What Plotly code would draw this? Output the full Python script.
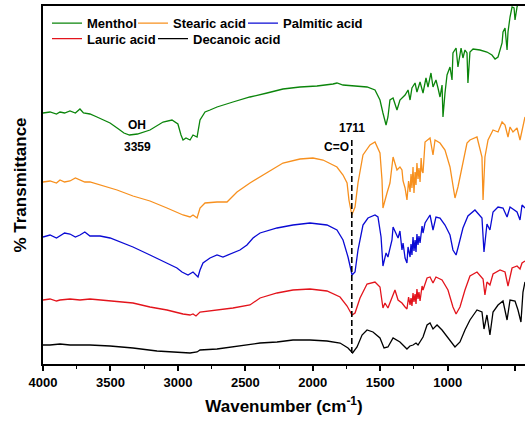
import plotly.graph_objects as go

# FTIR spectra, stacked (transmittance, arbitrary offset units)
menthol_wn = [4000, 3948, 3900, 3874, 3840, 3800, 3760, 3726, 3700, 3652, 3600, 3503, 3440, 3400, 3359,
              3300, 3207, 3110, 3044, 3000, 2977, 2962, 2940, 2925, 2910, 2888, 2858, 2836, 2799,
              2762, 2710, 2592, 2466, 2339, 2221, 2095, 1969, 1850, 1821, 1776, 1702, 1598, 1539,
              1502, 1480, 1457, 1443, 1428, 1405, 1376, 1354, 1316, 1294, 1279, 1265, 1242, 1228,
              1205, 1183, 1161, 1146, 1124, 1109, 1087, 1072, 1057, 1042, 1035, 1020, 1005, 983,
              968, 961, 938, 924, 901, 887, 872, 857, 850, 835, 812, 761, 709, 672, 649, 627, 597,
              590, 575, 560, 553, 538, 523, 508, 501, 486, 471, 449, 427]
menthol_t = [251, 252, 250, 252, 251, 253, 251, 255, 251, 250, 247, 241, 235, 231, 229,
             230, 234, 242, 244, 240, 229, 224, 226, 225, 224, 229, 227, 244, 252,
             254, 257, 262, 267, 271, 275, 277, 278, 280, 281, 279, 278, 277, 274,
             264, 251, 239, 247, 264, 266, 254, 264, 269, 274, 264, 276, 281, 272,
             282, 271, 286, 277, 291, 277, 284, 276, 267, 279, 247, 271, 289, 297,
             284, 311, 316, 297, 316, 306, 314, 311, 281, 312, 315, 314, 312, 309, 305, 307, 321,
             332, 336, 314, 332, 347, 357, 356, 344, 357, 364, 374, 379]

stearic_wn = [4000, 3948, 3900, 3874, 3840, 3800, 3760, 3726, 3690, 3652, 3577, 3451, 3333, 3207, 3081,
              2962, 2910, 2888, 2858, 2836, 2799, 2710, 2636, 2562, 2466, 2339, 2221, 2095, 1999,
              1924, 1821, 1776, 1746, 1732, 1711, 1687, 1665, 1628, 1576, 1539, 1502, 1487, 1480,
              1450, 1428, 1405, 1376, 1354, 1339, 1331, 1316, 1302, 1290, 1279, 1272, 1265, 1257,
              1250, 1242, 1235, 1228, 1220, 1213, 1205, 1197, 1190, 1183, 1168, 1153, 1131, 1109,
              1094, 1057, 1020, 983, 961, 946, 924, 887, 857, 835, 783, 746, 738, 724, 701, 664,
              627, 597, 575, 553, 538, 516, 486, 464, 442, 427]
stearic_t = [182, 183, 181, 184, 182, 183, 186, 184, 182, 182, 179, 174, 168, 163, 156,
             149, 147, 149, 146, 156, 161, 162, 162, 172, 181, 191, 201, 205, 206,
             204, 197, 189, 181, 164, 149, 157, 181, 209, 219, 222, 211, 184, 156,
             171, 181, 207, 194, 197, 194, 183, 176, 164, 183, 172, 190, 176, 197,
             171, 192, 179, 201, 185, 196, 182, 206, 193, 191, 222, 224, 226, 209,
             224, 221, 214, 197, 177, 166, 177, 201, 221, 224, 227, 207, 164, 207, 224, 234,
             232, 242, 239, 227, 237, 232, 236, 224, 239, 247]

palmitic_wn = [4000, 3948, 3900, 3874, 3840, 3800, 3760, 3726, 3690, 3652, 3577, 3503, 3429, 3333, 3207,
               3081, 3007, 2970, 2925, 2888, 2866, 2851, 2836, 2814, 2762, 2710, 2666, 2592, 2540,
               2488, 2443, 2391, 2265, 2147, 2021, 1895, 1821, 1776, 1739, 1709, 1687, 1665, 1628,
               1591, 1539, 1517, 1494, 1480, 1457, 1443, 1413, 1405, 1383, 1368, 1354, 1339, 1331,
               1316, 1302, 1294, 1279, 1272, 1265, 1257, 1250, 1242, 1235, 1228, 1220, 1213, 1205,
               1190, 1183, 1168, 1131, 1109, 1087, 1057, 1020, 983, 961, 938, 924, 887, 850, 798,
               746, 731, 709, 687, 664, 627, 590, 560, 538, 486, 464, 449, 427]
palmitic_t = [127, 129, 126, 128, 131, 130, 127, 129, 132, 128, 128, 126, 122, 117, 109,
              101, 96, 92, 89, 92, 89, 87, 94, 101, 106, 109, 107, 111, 114,
              119, 126, 131, 136, 139, 141, 139, 134, 124, 107, 89, 92, 114, 139,
              146, 149, 147, 127, 98, 111, 107, 124, 137, 131, 126, 133, 114, 121,
              106, 101, 117, 107, 120, 109, 127, 113, 124, 112, 130, 119, 128, 121,
              138, 131, 141, 149, 134, 147, 146, 139, 129, 114, 109, 116, 136, 148, 154,
              146, 112, 140, 134, 152, 157, 156, 147, 157, 152, 144, 159, 156]

lauric_wn = [4000, 3948, 3900, 3874, 3800, 3726, 3652, 3503, 3333, 3207, 3081, 2962, 2910, 2888,
             2866, 2836, 2710, 2592, 2466, 2391, 2265, 2147, 2021, 1895, 1798, 1746, 1709, 1687,
             1650, 1598, 1539, 1502, 1480, 1465, 1443, 1413, 1391, 1368, 1339, 1316, 1302, 1290,
             1279, 1272, 1265, 1257, 1250, 1242, 1235, 1228, 1220, 1213, 1205, 1190, 1183, 1153,
             1131, 1109, 1087, 1042, 998, 961, 938, 909, 872, 835, 783, 738, 724, 709, 687, 664,
             612, 575, 553, 523, 486, 464, 449, 427]
lauric_t = [64, 65, 63, 64, 65, 64, 65, 63, 61, 57, 54, 50, 49, 50,
            48, 52, 54, 56, 59, 66, 71, 74, 75, 73, 67, 58, 49, 51,
            66, 80, 82, 77, 56, 61, 56, 67, 74, 64, 61, 57, 55, 67,
            59, 66, 58, 71, 62, 70, 60, 75, 65, 72, 63, 78, 74, 86,
            87, 81, 87, 84, 74, 57, 50, 57, 74, 88, 92, 85, 69, 82, 79, 90,
            94, 92, 78, 96, 98, 95, 101, 103]

decanoic_wn = [4000, 3948, 3874, 3800, 3726, 3652, 3503, 3333, 3155, 2962, 2910, 2858, 2836, 2710,
               2592, 2466, 2391, 2265, 2147, 2021, 1895, 1798, 1739, 1705, 1672, 1635, 1598, 1554,
               1502, 1472, 1443, 1405, 1376, 1354, 1302, 1280, 1257, 1235, 1220, 1205, 1195, 1183,
               1153, 1131, 1109, 1079, 1042, 998, 946, 909, 872, 835, 783, 746, 731, 709, 687, 664,
               627, 590, 560, 538, 501, 479, 457, 442, 427]
decanoic_t = [19, 19, 20, 19, 19, 19, 18, 16, 13, 12, 11, 12, 14, 15,
              17, 19, 21, 22, 24, 24, 23, 21, 16, 11, 17, 29, 34, 32,
              26, 16, 17, 26, 24, 22, 15, 18, 19, 21, 19, 22, 25, 27,
              39, 41, 35, 39, 34, 26, 17, 22, 34, 44, 54, 52, 35, 49, 29, 52,
              59, 63, 44, 64, 63, 54, 42, 72, 82]

series = [
    ("Menthol", menthol_wn, menthol_t, "#0b850b", "legend"),
    ("Stearic acid", stearic_wn, stearic_t, "#f7901e", "legend2"),
    ("Palmitic acid", palmitic_wn, palmitic_t, "#0a0ad4", "legend3"),
    ("Lauric acid", lauric_wn, lauric_t, "#e3141c", "legend4"),
    ("Decanoic acid", decanoic_wn, decanoic_t, "#000000", "legend5"),
]

x_ticks = [4000, 3500, 3000, 2500, 2000, 1500, 1000, 500]
carbonyl_wn = 1711
oh_wn = 3359

FONT = "Liberation Sans, Arial, sans-serif"

fig = go.Figure()
for name, wn, t, color, leg in series:
    fig.add_trace(go.Scatter(x=wn, y=t, mode="lines", name=name, showlegend=True,
                             line=dict(color=color, width=1.3), legend=leg))

# dashed marker at the C=O stretch
fig.add_shape(type="line", x0=carbonyl_wn, x1=carbonyl_wn, y0=11, y1=224,
              xref="x", yref="y", line=dict(color="black", width=1.6, dash="6px,3px"))

ann_font = dict(family=FONT, size=12, color="black", weight="bold")
fig.add_annotation(x=3303, y=239, text="OH", showarrow=False, font=ann_font)
fig.add_annotation(x=3303, y=217, text=str(oh_wn), showarrow=False, font=ann_font)
fig.add_annotation(x=carbonyl_wn, y=236, text=str(carbonyl_wn), showarrow=False, font=ann_font)
fig.add_annotation(x=1828, y=217, text="C=O", showarrow=False, font=ann_font)

leg_font = dict(family=FONT, size=13, color="black", weight="bold")
def leg(x, y):
    return dict(x=x, y=y, xanchor="left", yanchor="middle", orientation="h",
                bgcolor="rgba(0,0,0,0)", borderwidth=0, font=leg_font, visible=True)

fig.update_layout(
    width=525, height=422,
    margin=dict(l=43, r=0, t=6, b=58),
    paper_bgcolor="white", plot_bgcolor="white",
    showlegend=True,
    legend=leg(0.0083, 0.952),
    legend2=leg(0.1867, 0.952),
    legend3=leg(0.4149, 0.952),
    legend4=leg(0.0083, 0.909),
    legend5=leg(0.2282, 0.909),
    xaxis=dict(
        range=[4000, 427], tickvals=x_ticks, ticktext=[str(v) for v in x_ticks],
        ticks="outside", ticklen=5, tickwidth=1.5, tickcolor="black",
        minor=dict(dtick=250, tick0=0, ticks="outside", ticklen=3, tickwidth=1.2, tickcolor="black"),
        showline=True, linecolor="black", linewidth=2, mirror=True,
        showgrid=False, zeroline=False,
        tickfont=dict(family=FONT, size=13, color="black", weight="bold"),
        title=dict(text="Wavenumber (cm<sup>-1</sup>)", standoff=12,
                   font=dict(family=FONT, size=17, color="black", weight="bold")),
    ),
    yaxis=dict(
        range=[0, 358], showticklabels=False, ticks="",
        showline=True, linecolor="black", linewidth=2, mirror=False,
        showgrid=False, zeroline=False,
        title=dict(text="% Transmittance", standoff=10,
                   font=dict(family=FONT, size=17, color="black", weight="bold")),
    ),
)

fig.write_html("out.html")
